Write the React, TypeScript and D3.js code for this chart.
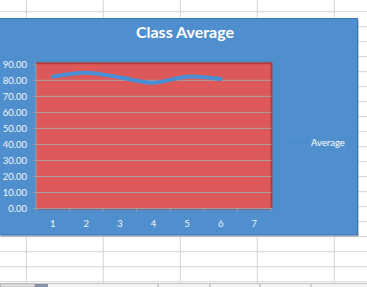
import React from "react";
import * as d3 from "d3";

const categories = ["1", "2", "3", "4", "5", "6", "7"];
const averageValues: (number | null)[] = [82.3, 84.8, 81.8, 78.5, 82.3, 80.8, null];
const yTicks = [0, 10, 20, 30, 40, 50, 60, 70, 80, 90];
const title = "Class Average";
const seriesName = "Average";

const W = 367;
const H = 287;
const FONT = "Lato, 'Open Sans', sans-serif";

export default function App() {
  const x = d3.scaleBand<string>().domain(categories).range([36, 271]).padding(0);
  const y = d3.scaleLinear().domain([0, 90]).range([208.5, 64.3]);

  const pts = categories
    .map((c, i) => ({ c, v: averageValues[i] }))
    .filter((d) => d.v !== null) as { c: string; v: number }[];
  const line = d3
    .line<{ c: string; v: number }>()
    .x((d) => (x(d.c) as number) + x.bandwidth() / 2)
    .y((d) => y(d.v))
    .curve(d3.curveCatmullRom.alpha(0.5));

  const colX = [26.3, 103.3, 180.3, 257.3, 334.3];
  const rowY = d3.range(0, 19).map((i) => 11.7 + i * 15);

  const [x0, x1] = x.range();
  const [yb, yt] = y.range();

  return (
    <div style={{ position: "fixed", left: 0, top: 0, width: W, height: H }}>
      <svg width={W} height={H} style={{ display: "block" }}>
        <rect x={0} y={0} width={W} height={H} fill="#ffffff" />
        {/* spreadsheet grid */}
        {rowY.map((ry, i) => (
          <line key={"r" + i} x1={0} x2={W} y1={ry} y2={ry} stroke="#d4d4d4" strokeWidth={1} />
        ))}
        {colX.map((cx, i) => (
          <line key={"c" + i} x1={cx} x2={cx} y1={0} y2={283} stroke="#d4d4d4" strokeWidth={1} />
        ))}
        {/* sheet tab bar */}
        <rect x={0} y={283.5} width={W} height={4} fill="#f2f2f2" />
        <line x1={0} x2={W} y1={283.5} y2={283.5} stroke="#c6c6c6" />
        <rect x={35} y={284} width={13} height={3} fill="#8393a8" />
        <rect x={0.5} y={284} width={34} height={3} fill="#e6e6e6" stroke="#b8b8b8" />
        {[158, 210, 260, 311].map((tx, i) => (
          <line key={"t" + i} x1={tx} x2={tx} y1={284} y2={287} stroke="#a8a8a8" />
        ))}

        {/* chart area */}
        <rect x={1} y={20} width={358} height={217} fill="#a9a9a9" opacity={0.6} />
        <rect x={-1} y={18.5} width={358.5} height={216.5} fill="#508fcd" stroke="#3d74b0" strokeWidth={1} />

        {/* title */}
        <text x={185} y={37.5} textAnchor="middle" fill="#ffffff" fontFamily={FONT} fontWeight="bold" fontSize={16}>
          {title}
        </text>

        {/* plot area */}
        <rect x={x0} y={yt - 1} width={x1 - x0} height={yb - yt + 1} fill="#dd5959" />
        <line x1={x0} x2={x1 + 1} y1={yt - 1} y2={yt - 1} stroke="#b23c3c" strokeWidth={2} />
        <line x1={x1 + 0.5} x2={x1 + 0.5} y1={yt - 2} y2={yb + 0.5} stroke="#b23c3c" strokeWidth={2} />
        <line x1={x0} x2={x1 + 1} y1={yb + 0.5} y2={yb + 0.5} stroke="#b23c3c" strokeWidth={1} />

        {yTicks.slice(1, -1).map((t) => (
          <line key={"g" + t} x1={x0} x2={x1} y1={y(t)} y2={y(t)} stroke="#a9a3a3" strokeWidth={1} />
        ))}

        {/* axes */}
        <line x1={x0} x2={x0} y1={yt - 1} y2={yb} stroke="#9c9c9c" strokeWidth={1} />
        <line x1={x0} x2={x1 + 1} y1={yb} y2={yb} stroke="#9c9c9c" strokeWidth={1} />
        {yTicks.map((t) => (
          <g key={"yt" + t}>
            <line x1={x0 - 3} x2={x0} y1={y(t)} y2={y(t)} stroke="#9c9c9c" />
            <text x={27} y={y(t) + 3.5} textAnchor="end" fill="#f4f4f4" fontFamily={FONT} fontSize={9.5}>
              {t.toFixed(2)}
            </text>
          </g>
        ))}
        {categories.map((c, i) => (
          <line key={"xt" + i} x1={x(c) as number} x2={x(c) as number} y1={yb} y2={yb + 3} stroke="#9c9c9c" />
        ))}
        <line x1={x1} x2={x1} y1={yb} y2={yb + 3} stroke="#9c9c9c" />
        {categories.map((c) => (
          <text
            key={"xl" + c}
            x={(x(c) as number) + x.bandwidth() / 2}
            y={226.5}
            textAnchor="middle"
            fill="#f4f4f4"
            fontFamily={FONT}
            fontSize={9.5}
          >
            {c}
          </text>
        ))}

        {/* series */}
        <path d={line(pts) || ""} fill="none" stroke="#4a8ed3" strokeWidth={4} strokeLinecap="round" strokeLinejoin="round" />

        {/* legend */}
        <line x1={288} x2={310} y1={142.5} y2={142.5} stroke="#4a8bcc" strokeWidth={2.5} />
        <text x={311} y={146} fill="#ffffff" fontFamily={FONT} fontSize={9.5}>
          {seriesName}
        </text>
      </svg>
    </div>
  );
}
